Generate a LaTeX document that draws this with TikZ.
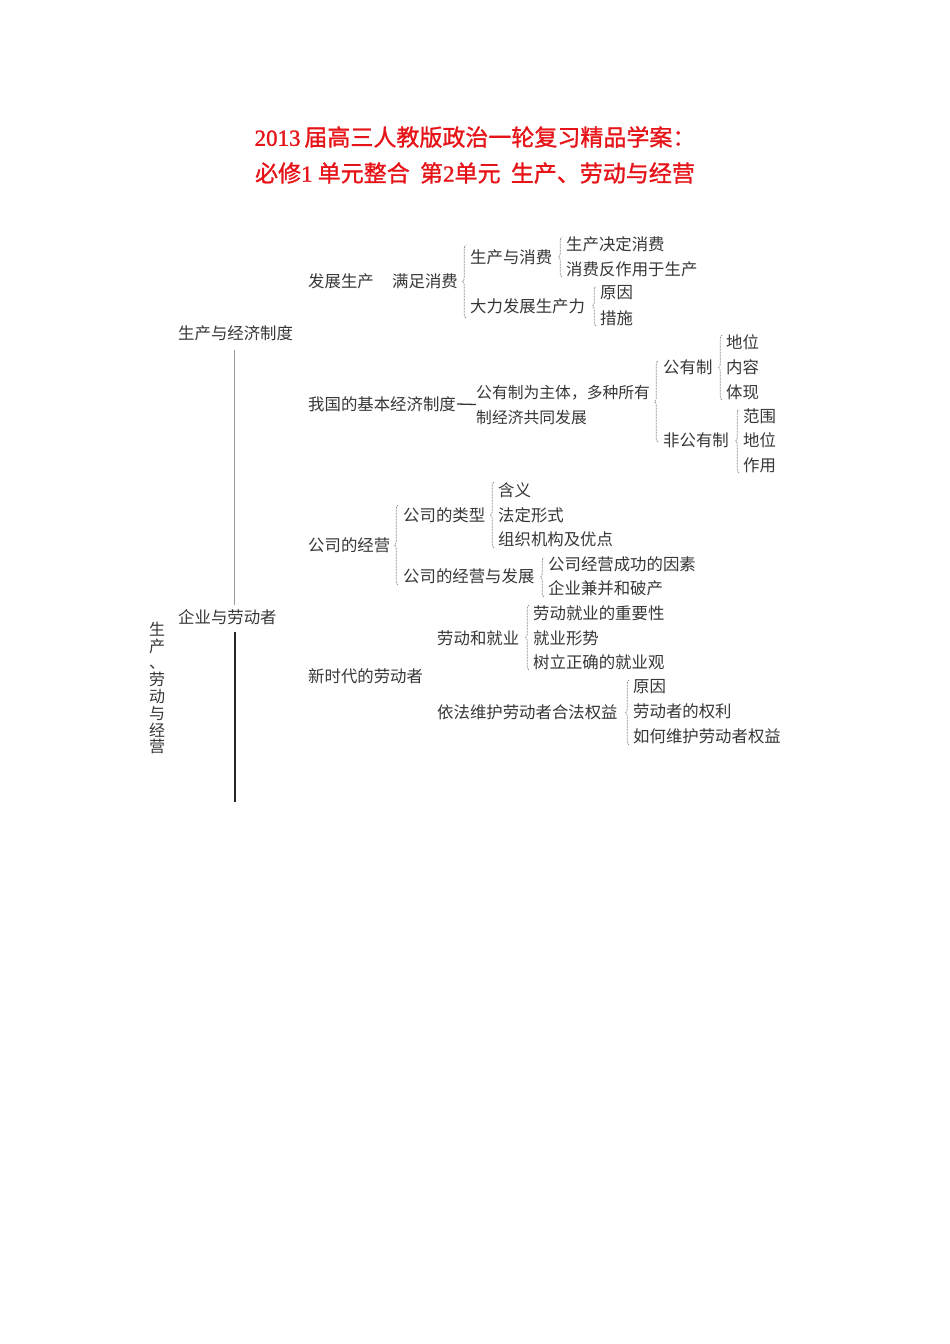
\documentclass[tikz,border=0pt]{standalone}
\usepackage{fontspec}
\setmainfont{Liberation Serif}
\newfontfamily\cjk{Noto Sans CJK SC}
\newfontfamily\cjkt[FakeBold=1.2]{Noto Sans CJK SC}
\newfontfamily\latt[FakeBold=1.2]{Liberation Serif}
\usetikzlibrary{decorations.pathreplacing}
\definecolor{titlered}{RGB}{230,20,25}
\definecolor{txt}{RGB}{55,55,55}
\tikzset{
  lbl/.style={anchor=west, inner sep=0pt, text=txt, font=\cjk\fontsize{16.4pt}{25pt}\selectfont},
  ttl/.style={inner sep=0pt, text=titlered, font=\cjkt\fontsize{23pt}{26pt}\selectfont},
  brc/.style={draw=gray!90, line width=0.7pt, dash pattern=on 2pt off 1pt,
    decorate, decoration={brace, amplitude=3.5pt}},
  dline/.style={draw=gray!80, double=white, double distance=1pt, line width=0.5pt},
  bline/.style={draw=black!85, line width=2pt},
  dashline/.style={draw=black!80, line width=1.3pt}
}
\begin{document}
\begin{tikzpicture}[x=1pt,y=1pt]
\useasboundingbox[fill=white] (0,0) rectangle (950,-1344);
% title
\node[ttl] (t1) at (475,-137) {{\latt 2013}\,届高三人教版政治一轮复习精品学案：};
\node[ttl] (t2) at (475,-173) {必修{\latt 1} 单元整合\ \ 第{\latt 2}单元\ \ 生产、劳动与经营};

% level 1
\node[lbl] (sc) at (178,-333) {生产与经济制度};
\node[lbl] (qy) at (178,-617) {企业与劳动者};
\node[lbl, align=center, font=\cjk\fontsize{16pt}{16.8pt}\selectfont] (vt) at (149,-688) {生\\产\\、\\劳\\动\\与\\经\\营};

\coordinate (bend) at (235,-802);
\draw[dline] ([yshift=-9pt]sc.south -| bend) -- ([yshift=4pt]qy.north -| bend);
\draw[bline] (qy.south -| bend) ++(0,-7) -- (bend);

% block 1
\node[lbl] (fz) at (308,-281) {发展生产};
\node[lbl] (mz) at (392,-281) {满足消费};
\node[lbl] (sx) at (470,-257) {生产与消费};
\node[lbl] (dl) at (470,-306) {大力发展生产力};
\node[lbl] (jd) at (566,-244) {生产决定消费};
\node[lbl] (fzy) at (566,-269) {消费反作用于生产};
\node[lbl] (yy1) at (600,-293) {原因};
\node[lbl] (cs) at (600,-318) {措施};
\draw[brc] ([xshift=-4pt,yshift=-12pt]dl.west) -- ([xshift=-4pt,yshift=12pt]sx.west);
\draw[brc] ([xshift=-4pt,yshift=-8pt]fzy.west) -- ([xshift=-4pt,yshift=7pt]jd.west);
\draw[brc] ([xshift=-4pt,yshift=-8pt]cs.west) -- ([xshift=-4pt,yshift=7pt]yy1.west);

% block 2
\node[lbl] (jb) at (308,-404) {我国的基本经济制度};
\node[lbl, align=left, font=\cjk\fontsize{15.8pt}{25pt}\selectfont] (gz) at (476,-404.5) {公有制为主体，多种所有\\制经济共同发展};
\draw[dashline] (jb.east) ++(1,0) -- (gz.west);
\node[lbl] (gy) at (663,-367) {公有制};
\node[lbl] (fgy) at (663,-440) {非公有制};
\node[lbl] (dw1) at (726,-342) {地位};
\node[lbl] (nr) at (726,-367) {内容};
\node[lbl] (tx) at (726,-392) {体现};
\node[lbl] (fw) at (743,-416) {范围};
\node[lbl] (dw2) at (743,-440) {地位};
\node[lbl] (zy) at (743,-465) {作用};
\draw[brc] ([xshift=-5pt,yshift=-2pt]fgy.west) -- ([xshift=-5pt,yshift=6pt]gy.west);
\draw[brc] ([xshift=-4pt,yshift=-8pt]tx.west) -- ([xshift=-4pt,yshift=7pt]dw1.west);
\draw[brc] ([xshift=-4pt,yshift=-8pt]zy.west) -- ([xshift=-4pt,yshift=7pt]fw.west);

% block 3
\node[lbl] (gsj) at (308,-545) {公司的经营};
\node[lbl] (lx) at (403,-515) {公司的类型};
\node[lbl] (jyfz) at (403,-576) {公司的经营与发展};
\node[lbl] (hy) at (498,-490) {含义};
\node[lbl] (fd) at (498,-515) {法定形式};
\node[lbl] (zz) at (498,-539) {组织机构及优点};
\node[lbl] (cg) at (548,-564) {公司经营成功的因素};
\node[lbl] (jb2) at (548,-588) {企业兼并和破产};
\draw[brc] ([xshift=-5pt,yshift=-9pt]jyfz.west) -- ([xshift=-5pt,yshift=10pt]lx.west);
\draw[brc] ([xshift=-4pt,yshift=-9pt]zz.west) -- ([xshift=-4pt,yshift=8pt]hy.west);
\draw[brc] ([xshift=-4pt,yshift=-9pt]jb2.west) -- ([xshift=-4pt,yshift=7pt]cg.west);

% block 4
\node[lbl] (xsd) at (308,-676) {新时代的劳动者};
\node[lbl] (ldjy) at (437,-638) {劳动和就业};
\node[lbl] (wh) at (437,-712) {依法维护劳动者合法权益};
\node[lbl] (zyx) at (533,-613) {劳动就业的重要性};
\node[lbl] (xs) at (533,-638) {就业形势};
\node[lbl] (jyg) at (533,-662) {树立正确的就业观};
\node[lbl] (yy2) at (633,-687) {原因};
\node[lbl] (ql) at (633,-711) {劳动者的权利};
\node[lbl] (rh) at (633,-736) {如何维护劳动者权益};
\draw[brc] ([xshift=-4pt,yshift=-8pt]jyg.west) -- ([xshift=-4pt,yshift=8pt]zyx.west);
\draw[brc] ([xshift=-4pt,yshift=-9pt]rh.west) -- ([xshift=-4pt,yshift=7pt]yy2.west);
\end{tikzpicture}
\end{document}
